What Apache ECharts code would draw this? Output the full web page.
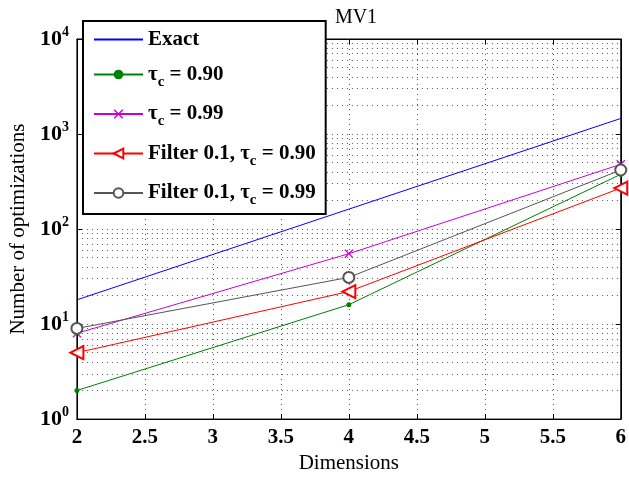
<!DOCTYPE html>
<html>
<head>
<meta charset="utf-8">
<script src="https://cdn.jsdelivr.net/npm/echarts@6/dist/echarts.min.js"></script>
<style>html,body{margin:0;padding:0;background:#fff}#c{width:629px;height:479px}</style>
</head>
<body>
<div id="c"></div>
<script>
var dims = [2, 4, 6];
var exact = [18, 162, 1458];
var tau90 = [2, 16, 377];
var tau99 = [8, 55, 480];
var filt90 = [5, 22, 270];
var filt99 = [9, 31, 418];
var seriesNames = ['Exact', 'τc = 0.90', 'τc = 0.99', 'Filter 0.1, τc = 0.90', 'Filter 0.1, τc = 0.99'];
var xTicks = [2, 2.5, 3, 3.5, 4, 4.5, 5, 5.5, 6];

var FONT = 'Liberation Serif';
function pairs(vals) { return dims.map(function (d, i) { return [d, vals[i]]; }); }

// minor log grid lines (2..9 within each decade)
var minorLines = [];
for (var p = 0; p < 4; p++) {
  for (var k = 2; k <= 9; k++) minorLines.push({ yAxis: k * Math.pow(10, p) });
}
var gridLineStyle = { color: '#555', width: 1, type: [1, 4] };

var chart = echarts.init(document.getElementById('c'), null, { renderer: 'canvas' });
var xCross = 'path://M0,1 L1,0 L5,4 L9,0 L10,1 L6,5 L10,9 L9,10 L5,6 L1,10 L0,9 L4,5 Z';

var legendData = seriesNames.map(function (n, i) {
  return i === 0 ? { name: n, itemStyle: { opacity: 0 } } : { name: n };
});

var option = {
  animation: false,
  backgroundColor: '#fff',
  title: {
    text: 'MV1', left: 351, top: 3, textAlign: 'center',
    textStyle: { fontFamily: FONT, fontSize: 20, fontWeight: 'normal', color: '#000' }
  },
  grid: { left: 76, right: 3, top: 39, bottom: 55, show: true, borderColor: '#000', borderWidth: 1 },
  legend: {
    orient: 'vertical', left: 83, top: 21,
    backgroundColor: '#fff', borderColor: '#000', borderWidth: 2,
    padding: [8, 10, 6, 10], itemGap: 14, itemWidth: 49, itemHeight: 12,
    data: legendData,
    formatter: function (name) {
      return name.replace('τc', '{t|τ}{s|c}');
    },
    textStyle: {
      fontFamily: FONT, fontSize: 21, fontWeight: 'bold', color: '#000',
      rich: {
        t: { fontFamily: FONT, fontSize: 21, fontWeight: 'bold', color: '#000' },
        s: { fontFamily: FONT, fontSize: 15, fontWeight: 'bold', color: '#000', padding: [15, 0, 0, 0] }
      }
    }
  },
  xAxis: [{
    type: 'value', min: 2, max: 6, interval: 0.5,
    name: 'Dimensions', nameLocation: 'middle', nameGap: 30,
    nameTextStyle: { fontFamily: FONT, fontSize: 21, color: '#000' },
    axisLine: { lineStyle: { color: '#000' } },
    axisTick: { inside: true, length: 5, lineStyle: { color: '#000' } },
    axisLabel: {
      margin: 8, fontFamily: FONT, fontSize: 21, fontWeight: 'bold', color: '#000',
      formatter: function (v) { return xTicks.indexOf(v) >= 0 ? String(v) : ''; }
    },
    splitLine: { show: true, lineStyle: gridLineStyle }
  }, {
    type: 'value', min: 2, max: 6, interval: 0.5, position: 'top',
    axisLine: { lineStyle: { color: '#000' } },
    axisTick: { inside: true, length: 5, lineStyle: { color: '#000' } },
    axisLabel: { show: false }, splitLine: { show: false }
  }],
  yAxis: [{
    type: 'log', logBase: 10, min: 1, max: 10000,
    name: 'Number of optimizations', nameLocation: 'middle', nameGap: 41,
    nameTextStyle: { fontFamily: FONT, fontSize: 21, color: '#000' },
    axisLine: { show: true, lineStyle: { color: '#000' } },
    axisTick: { show: true, inside: true, length: 5, lineStyle: { color: '#000' } },
    axisLabel: {
      margin: 8, color: '#000',
      formatter: function (v) {
        var e = Math.round(Math.log10(v));
        return '{b|10}{s|' + e + '}';
      },
      rich: {
        b: { fontFamily: FONT, fontSize: 22, fontWeight: 'bold', color: '#000' },
        s: { fontFamily: FONT, fontSize: 14, fontWeight: 'bold', color: '#000', padding: [0, 0, 14, 0] }
      }
    },
    splitLine: { show: true, lineStyle: gridLineStyle }
  }, {
    type: 'log', logBase: 10, min: 1, max: 10000, position: 'right',
    axisLine: { show: true, lineStyle: { color: '#000' } },
    axisTick: { show: true, inside: true, length: 5, lineStyle: { color: '#000' } },
    axisLabel: { show: false }, splitLine: { show: false }
  }],
  series: [
    {
      name: seriesNames[0], type: 'line', data: pairs(exact), symbol: 'none',
      lineStyle: { color: '#0000ff', width: 1 }, itemStyle: { color: '#0000ff' },
      markLine: {
        silent: true, symbol: 'none', label: { show: false },
        lineStyle: gridLineStyle, data: minorLines, z: 0
      },
      z: 5
    },
    {
      name: seriesNames[1], type: 'line', data: pairs(tau90), symbol: 'circle', symbolSize: 5,
      lineStyle: { color: '#008000', width: 1 }, itemStyle: { color: '#008000' }, z: 5
    },
    {
      name: seriesNames[2], type: 'line', data: pairs(tau99), symbol: xCross, symbolSize: 9,
      lineStyle: { color: '#cc00cc', width: 1 }, itemStyle: { color: '#cc00cc' }, z: 5
    },
    {
      name: seriesNames[3], type: 'line', data: pairs(filt90), symbol: 'emptyTriangle', symbolSize: 13, symbolRotate: 90,
      lineStyle: { color: '#ff0000', width: 1 }, itemStyle: { color: '#ff0000', borderWidth: 1 }, z: 5
    },
    {
      name: seriesNames[4], type: 'line', data: pairs(filt99), symbol: 'emptyCircle', symbolSize: 11,
      lineStyle: { color: '#555555', width: 1 }, itemStyle: { color: '#555555', borderWidth: 1 }, z: 5
    }
  ]
};
chart.setOption(option);
</script>
</body>
</html>
